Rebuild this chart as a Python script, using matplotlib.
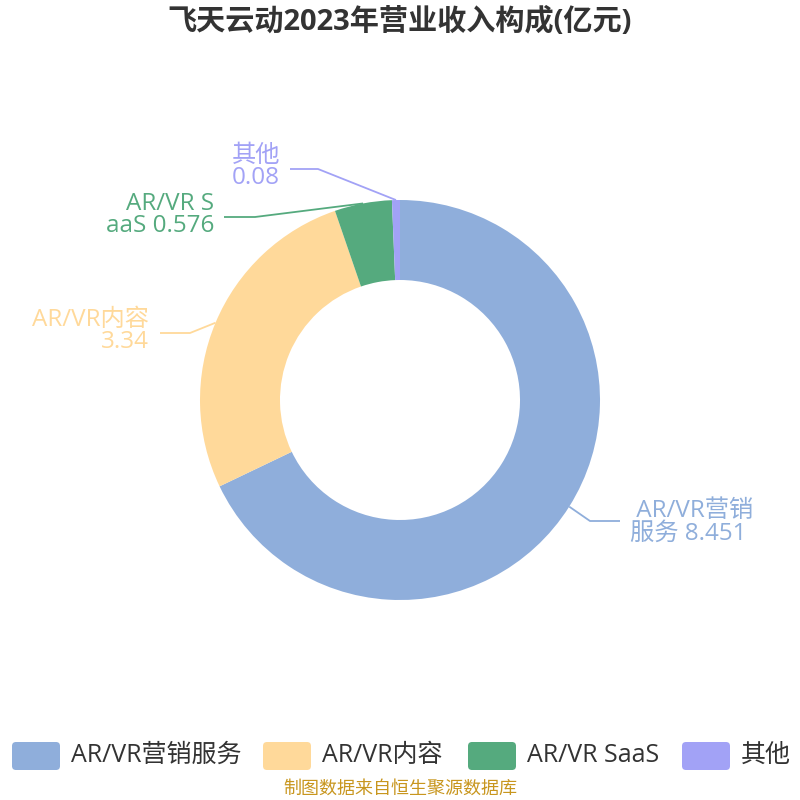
import numpy as np
import matplotlib
matplotlib.use("Agg")
import matplotlib.pyplot as plt
from matplotlib.patches import FancyBboxPatch

plt.rcParams["font.family"] = ["Open Sans", "Noto Sans CJK SC", "DejaVu Sans"]

# data
categories = ["AR/VR营销服务", "AR/VR内容", "AR/VR SaaS", "其他"]
values = [8.451, 3.34, 0.576, 0.08]
label_texts = [" AR/VR营销\n服务 8.451", "AR/VR内容\n3.34", "AR/VR S\naaS 0.576", "其他\n0.08"]
colors = ["#8FAEDB", "#FFD99A", "#55AA7E", "#A2A2F6"]

W = 800
fig = plt.figure(figsize=(8, 8), dpi=100)
ax = fig.add_axes([0, 0, 1, 1])

cx, cy, R = 400, 400, 200
wedges, _ = ax.pie(values, colors=colors, startangle=90, counterclock=False,
                   radius=R, center=(cx, cy), frame=True,
                   wedgeprops=dict(width=80, linewidth=0))
ax.set_xlim(0, W)
ax.set_ylim(0, W)
ax.set_aspect("equal")
ax.axis("off")

# label layout (pixel coords from top): knee point, line end, text anchor
knees = [(590, 521), (190, 333), (255, 217), (318, 169)]
ends = [(620, 521), (160, 333), (224, 217), (290, 169)]
text_pos = [(630, 522), (149, 331), (214, 215), (280, 167)]
aligns = ["left", "right", "right", "right"]

for w, c, lab, k, e, tp, ha in zip(wedges, colors, label_texts, knees, ends, text_pos, aligns):
    mid = np.deg2rad((w.theta1 + w.theta2) / 2)
    ax0 = cx + R * np.cos(mid)
    ay0 = cy + R * np.sin(mid)
    ax.plot([ax0, k[0], e[0]], [ay0, W - k[1], W - e[1]], color=c, lw=1.3,
            solid_capstyle="butt")
    ax.text(tp[0], W - tp[1], lab, color=c, fontsize=17.5, ha=ha, va="center",
            multialignment=ha, linespacing=0.92)

fig.text(0.5, 1 - 22 / W, "飞天云动2023年营业收入构成(亿元)", ha="center", va="center",
         fontsize=21, fontweight="bold", color="#333333")

# legend
box_x = [12, 263, 468, 682]
for bx, c, name in zip(box_x, colors, categories):
    p = FancyBboxPatch((bx + 4, W - 770 + 4), 40, 20,
                       boxstyle="round,pad=4", fc=c, ec="none")
    ax.add_patch(p)
    ax.text(bx + 59, W - 755, name, fontsize=18, color="#333333",
            ha="left", va="center")

fig.text(0.5, 1 - 789 / W, "制图数据来自恒生聚源数据库", ha="center", va="center",
         fontsize=13, color="#C8961E")

fig.savefig("out.png", dpi=100)
